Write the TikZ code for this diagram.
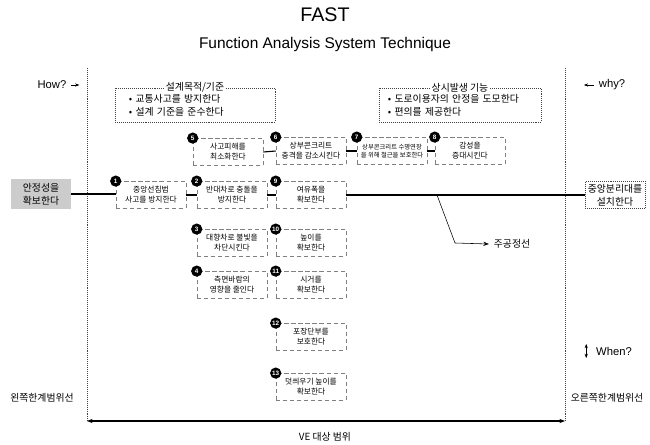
\documentclass[tikz,border=0pt]{standalone}
\usepackage{fontspec}
\setmainfont{Liberation Sans}
\newfontfamily\kr{Noto Sans CJK KR}
\definecolor{darkGray}{RGB}{66, 66, 66}
\usepackage{tikz}
\usetikzlibrary{positioning, calc, arrows.meta}

\begin{document}
\begin{tikzpicture}[
    x=0.025cm, y=-0.025cm,
    fn/.style={rectangle, draw=gray, densely dashed, thin, minimum width=1.75cm,
               minimum height=0.68cm, inner sep=1pt, align=center,
               font=\kr\fontsize{5.5}{7}\selectfont},
    num/.style={circle, fill=black, text=white, inner sep=0pt, minimum size=8pt,
                font=\fontsize{4.5}{5}\selectfont\bfseries},
    infobox/.style={rectangle, draw=darkGray, densely dotted, align=left,
                    inner sep=3pt, minimum height=0.85cm,
                    font=\kr\fontsize{7}{9}\selectfont},
    boxtitle/.style={fill=white, inner sep=1pt, font=\kr\fontsize{7}{9}\selectfont},
    side/.style={font=\kr\fontsize{7}{9}\selectfont},
    crit/.style={line width=1.6pt},
    link/.style={thick},
    scopeline/.style={densely dotted, darkGray},
  ]
    \useasboundingbox (0,0) rectangle (650,445);

    % Title
    \node[font=\fontsize{14}{16}\selectfont] (title) at (325,15) {FAST};
    \node[font=\fontsize{11}{13}\selectfont] (subtitle) at (325,45)
         {Function Analysis System Technique};

    % Scope lines
    \coordinate (lt) at (87,68);
    \coordinate (lb) at (87,421);
    \coordinate (rt) at (565,68);
    \coordinate (rb) at (565,421);
    \draw[scopeline] (lt) -- (lb);
    \draw[scopeline] (rt) -- (rb);
    \draw[{Stealth[length=4pt]}-{Stealth[length=4pt]}, thick] (lb) -- (rb);
    \node[side] (ve) at (325,437) {VE 대상 범위};
    \node[side] (lscope) at (42,398) {왼쪽한계범위선};
    \node[side] (rscope) at (607,398) {오른쪽한계범위선};

    % How / why / when
    \node[font=\fontsize{8}{10}\selectfont] (how) at (52,85) {How?};
    \draw[-{Stealth[length=3pt]}] (how.east) -- ++(8,0);
    \node[font=\fontsize{8}{10}\selectfont] (why) at (612,85) {why?};
    \draw[-{Stealth[length=3pt]}] (why.west) -- ++(-10,0);
    \node[font=\fontsize{8}{10}\selectfont] (when) at (614,351) {When?};
    \draw[{Stealth[length=3pt]}-{Stealth[length=3pt]}]
         ($(when.west)+(-5,-7)$) -- ++(0,14);

    % Design objectives / all-time functions
    \node[infobox, minimum width=4cm, text width=3.3cm] (obj) at (195,105)
         {• 교통사고를 방지한다\\• 설계 기준을 준수한다};
    \node[boxtitle] (objt) at (obj.north) {설계목적/기준};
    \node[infobox, minimum width=4.05cm, text width=3.6cm] (allt) at (460,105)
         {• 도로이용자의 안정을 도모한다\\• 편의를 제공한다};
    \node[boxtitle] (alltt) at (allt.north) {상시발생 기능};

    % Basic function and scope nodes
    \node[side, fill=gray!40, align=center, inner sep=3pt, minimum width=1.5cm] (goal) at (41,194)
         {안정성을\\확보한다};
    \node[side, draw=darkGray, densely dotted, align=center, inner sep=2pt] (task) at (615,195)
         {중앙분리대를\\설치한다};

    % Functions
    \node[fn] (f1) at (151,195) {중앙선침범\\사고를 방지한다};
    \node[fn] (f2) at (232,195) {반대차로 충돌을\\방지한다};
    \node[fn] (f3) at (232,243) {대향차로 불빛을\\차단시킨다};
    \node[fn] (f4) at (232,285) {측면바람의\\영향을 줄인다};
    \node[fn] (f5) at (228,152) {사고피해를\\최소화한다};
    \node[fn] (f6) at (311,151) {상부콘크리트\\충격을 감소시킨다};
    \node[fn, font=\kr\fontsize{4.5}{6}\selectfont] (f7) at (392,151)
         {상부콘크리트 수명연장\\을 위해 철근을 보호한다};
    \node[fn] (f8) at (470,151) {감성을\\증대시킨다};
    \node[fn] (f9) at (311,195) {여유폭을\\확보한다};
    \node[fn] (f10) at (311,243) {높이를\\확보한다};
    \node[fn] (f11) at (311,285) {시거를\\확보한다};
    \node[fn] (f12) at (311,337) {포장단부를\\보호한다};
    \node[fn] (f13) at (311,387) {덧씌우기 높이를\\확보한다};

    \foreach \i in {1,...,13}
      \node[num] (n\i) at (f\i.north west) {\i};

    % Critical path
    \draw[crit] (goal.east) -- (goal.east -| f1.west);
    \draw[crit] (f1.east) -- (f2.west);
    \draw[crit] (f2.east) -- (f9.west);
    \draw[crit] (f9.east) -- (task.west |- f9.east);

    % Side chain
    \draw[link] (f5.east) -- (f6.west);
    \draw[link] (f6.east) -- (f7.west);
    \draw[link] (f7.east) -- (f8.west);

    % Critical path label
    \coordinate (cp) at (437,195);
    \coordinate (bend) at (455,243);
    \node[side] (cpl) at (512,244) {주공정선};
    \draw[-{Stealth[length=4pt]}] (cp) -- (bend) -- (cpl.west);
  \end{tikzpicture}
\end{document}
